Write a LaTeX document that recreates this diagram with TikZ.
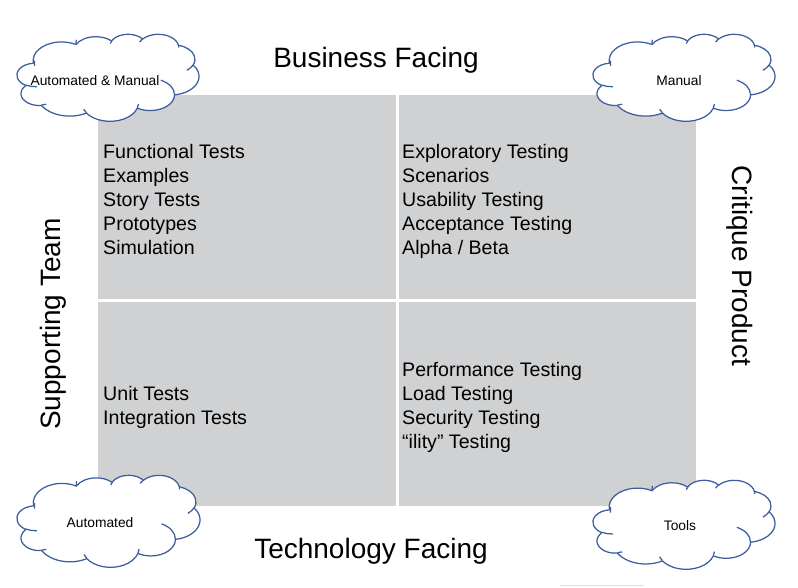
\documentclass[tikz,border=0pt]{standalone}
\usepackage{fontspec}
\setmainfont{Liberation Sans}
\definecolor{quad}{RGB}{208,209,211}
\definecolor{cloudline}{RGB}{60,93,158}

% Cloud callout built from elliptical arcs laid out in a unit square
% (radii as fractions of the box, angles measured on the ellipse as seen),
% then stretched to the box; plus the small inner curls.
\newcommand\drawcloud[4]{% left, top, width, height
  \begin{scope}[shift={(#1,#2)}]
    \def\cw{#3}\def\ch{#4}
    \draw[cloudedge, fill=white] ({\cw*0.09028},{\ch*0.33264})
      \foreach \cra/\crb/\cst/\csw [evaluate=\cra as \wr using \cw*\cra,
          evaluate=\crb as \hr using \ch*\crb,
          evaluate=\cst as \tst using {atan2(\cra*sin(\cst),\crb*cos(\cst))},
          evaluate=\cst as \traw using {atan2(\cra*sin(\cst+\csw),\crb*cos(\cst+\csw))},
          evaluate=\cst as \ten using {\traw+360*(\traw<\tst)}] in {
        0.15632/0.21273/-190.4875/123.7805,
        0.12345/0.16822/-144.1024/89.9452,
        0.10104/0.13762/-145.8079/99.7230,
        0.11243/0.15266/-130.9861/117.2417,
        0.12345/0.16836/-78.7089/109.0269,
        0.15683/0.21343/-46.2673/130.2690,
        0.13391/0.18211/0.6250/114.0333,
        0.15630/0.21331/22.4516/115.1726,
        0.17870/0.24405/66.2426/75.7110,
        0.10093/0.13699/-274.9421/146.7356,
        0.10058/0.13762/-246.8285/152.5189}
      { arc[start angle=\tst, end angle=\ten, x radius=\wr, y radius=\hr] } -- cycle;
    \foreach \cpx/\cpy/\cra/\crb/\cst/\csw [evaluate=\cra as \wr using \cw*\cra,
          evaluate=\crb as \hr using \ch*\crb,
          evaluate=\cst as \tst using {atan2(\cra*sin(\cst),\crb*cos(\cst))},
          evaluate=\cst as \traw using {atan2(\cra*sin(\cst+\csw),\crb*cos(\cst+\csw))},
          evaluate=\cst as \ten using {\traw+360*(\traw<\tst)}] in {
        0.10863/0.60595/0.10058/0.13762/86.7420/26.4295,
        0.16037/0.80785/0.10093/0.13699/73.6105/11.4475,
        0.38144/0.90486/0.15630/0.21331/137.6242/14.0811,
        0.66729/0.80442/0.15630/0.21331/6.4533/15.9984,
        0.79002/0.53134/0.13391/0.18211/-70.2924/70.9174,
        0.96755/0.35542/0.12345/0.16836/30.3180/27.7515,
        0.88713/0.12560/0.11243/0.15266/-13.7443/14.8589,
        0.67310/0.09148/0.11243/0.15266/-149.1815/18.1954,
        0.51252/0.10926/0.10104/0.13762/-163.4943/17.6864,
        0.32407/0.12019/0.15632/0.21273/-187.3895/19.7689,
        0.09553/0.36549/0.15632/0.21273/-190.4875/21.8013}
      \draw[cloudedge] ({\cw*\cpx},{\ch*\cpy})
        arc[start angle=\tst, end angle=\ten, x radius=\wr, y radius=\hr];
  \end{scope}}

\begin{document}
\begin{tikzpicture}[x=1pt,y=-1pt,
  cloudedge/.style={draw=cloudline, line width=1.25pt, line join=round},
  cloudtext/.style={font=\fontsize{13.8}{15}\selectfont, inner sep=0pt},
  itemtext/.style={anchor=base west, inner sep=0pt, font=\fontsize{19.6}{24}\selectfont},
  axistext/.style={font=\fontsize{28}{32}\selectfont, inner sep=0pt}]
\useasboundingbox (0,0) rectangle (798,587);

% quadrant background and dividers
\fill[quad] (98,95) rectangle (696,506);
\draw[white, line width=3pt] (397,95) -- (397,506);
\draw[white, line width=3pt] (98,300.5) -- (696,300.5);

% axis labels
\node[axistext, anchor=base] (business) at (376,67) {Business Facing};
\node[axistext, anchor=base] (technology) at (371,558) {Technology Facing};
\node[axistext, rotate=90] (supporting) at (53,324) {Supporting Team};
\node[axistext, rotate=-90] (critique) at (740,266) {Critique Product};

% quadrant contents
\foreach \t [count=\i] in {Functional Tests, Examples, Story Tests, Prototypes, Simulation}
  \node[itemtext] (q1-\i) at (103,{158+24*(\i-1)}) {\t};
\foreach \t [count=\i] in {Exploratory Testing, Scenarios, Usability Testing, Acceptance Testing, Alpha / Beta}
  \node[itemtext] (q2-\i) at (402,{158+24*(\i-1)}) {\t};
\foreach \t [count=\i] in {Unit Tests, Integration Tests}
  \node[itemtext] (q3-\i) at (103,{400.5+24*(\i-1)}) {\t};
\foreach \t [count=\i] in {Performance Testing, Load Testing, Security Testing, “ility” Testing}
  \node[itemtext] (q4-\i) at (402,{376.5+24*(\i-1)}) {\t};

% corner clouds
\drawcloud{17}{34}{182}{87}
\drawcloud{593}{34}{182}{87}
\drawcloud{17}{475}{183}{92}
\drawcloud{593}{480}{182}{89}
\node[cloudtext] (tTL) at (95,81) {Automated \& Manual};
\node[cloudtext] (tTR) at (679,81) {Manual};
\node[cloudtext] (tBL) at (100,523) {Automated};
\node[cloudtext] (tBR) at (680,526) {Tools};

% faint rule along the bottom edge
\draw[black!12, line width=1.5pt] (560,585.5) -- (644,585.5);
\end{tikzpicture}
\end{document}
